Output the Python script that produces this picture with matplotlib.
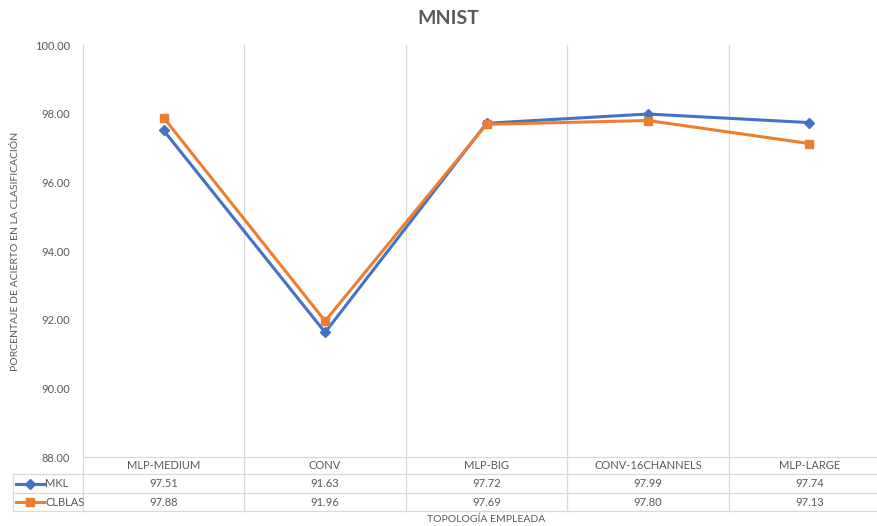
import matplotlib
matplotlib.use("Agg")
import matplotlib.pyplot as plt
from matplotlib.transforms import blended_transform_factory
from matplotlib.lines import Line2D

categories = ["MLP-MEDIUM", "CONV", "MLP-BIG", "CONV-16CHANNELS", "MLP-LARGE"]
mkl = [97.51, 91.63, 97.72, 97.99, 97.74]
clblas = [97.88, 91.96, 97.69, 97.80, 97.13]
series_names = ["MKL", "CLBLAS"]
yticks = [88, 90, 92, 94, 96, 98, 100]

plt.rcParams['font.family'] = ['Lato', 'DejaVu Sans']
W, H = 877, 526
fig = plt.figure(figsize=(W / 100, H / 100), dpi=100)
txt = '#595959'
grid = '#D9D9D9'
blue = '#4472C4'
orange = '#ED7D31'

left_px, right_px, top_px, bot_px = 83, 890, 45, 457
ax = fig.add_axes([left_px / W, 1 - bot_px / H, (right_px - left_px) / W, (bot_px - top_px) / H])
x = list(range(len(categories)))
ax.set_xlim(-0.5, len(categories) - 0.5)
ax.set_ylim(88, 100)
for s in ax.spines.values():
    s.set_visible(False)
ax.set_yticks(yticks)
ax.set_yticklabels([f"{v:.2f}" for v in yticks], color=txt, fontsize=8)
ax.tick_params(axis='y', length=0, pad=9.5)
ax.set_xticks([])

ax.plot(x, mkl, color=blue, lw=2.2, marker='D', ms=5, zorder=3)
ax.plot(x, clblas, color=orange, lw=2.2, marker='s', ms=5.5, zorder=3)

# figure-pixel helpers
def fy(py):
    return 1 - py / H
def fx(px):
    return px / W

row_lines = [457, 474, 493, 511]
table_left = 13
# vertical gridlines (through table)
bt = blended_transform_factory(ax.transData, fig.transFigure)
for i in range(len(categories) + 1):
    xb = i - 0.5
    ax.add_line(Line2D([xb, xb], [fy(top_px), fy(511)], transform=bt, color=grid, lw=0.9, clip_on=False, zorder=1))
# horizontal table lines
fig.add_artist(Line2D([fx(left_px), fx(right_px)], [fy(457), fy(457)], color=grid, lw=0.9))
for py in row_lines[1:]:
    fig.add_artist(Line2D([fx(table_left), fx(right_px)], [fy(py), fy(py)], color=grid, lw=0.9))
fig.add_artist(Line2D([fx(table_left), fx(table_left)], [fy(474), fy(511)], color=grid, lw=0.9))

# table text
centers = [(row_lines[k] + row_lines[k + 1]) / 2 for k in range(3)]
for i, c in enumerate(categories):
    ax.text(i, fy(centers[0]), c, transform=bt, ha='center', va='center', fontsize=8, color=txt, clip_on=False)
    ax.text(i, fy(centers[1]), f"{mkl[i]:.2f}", transform=bt, ha='center', va='center', fontsize=8, color=txt, clip_on=False)
    ax.text(i, fy(centers[2]), f"{clblas[i]:.2f}", transform=bt, ha='center', va='center', fontsize=8, color=txt, clip_on=False)

# legend keys in table
for name, col, mk, ms, cy in [(series_names[0], blue, 'D', 5, centers[1]), (series_names[1], orange, 's', 5.5, centers[2])]:
    fig.add_artist(Line2D([fx(16), fx(44)], [fy(cy), fy(cy)], color=col, lw=2.2))
    fig.add_artist(Line2D([fx(30)], [fy(cy)], color=col, marker=mk, ms=ms, lw=0))
    fig.text(fx(45), fy(cy), name, ha='left', va='center', fontsize=8, color=txt)

fig.text(fx((left_px + right_px) / 2), fy(519), "TOPOLOGÍA EMPLEADA", ha='center', va='center', fontsize=7.5, color=txt)
fig.text(fx(16), fy((top_px + bot_px) / 2), "PORCENTAJE DE ACIERTO EN LA CLASIFICACIÓN", rotation=90, ha='center', va='center', fontsize=7.5, color=txt)
fig.text(fx(448), fy(18), "MNIST", ha='center', va='center', fontsize=14, fontweight='bold', color=txt)

fig.savefig("out.png", dpi=100)
